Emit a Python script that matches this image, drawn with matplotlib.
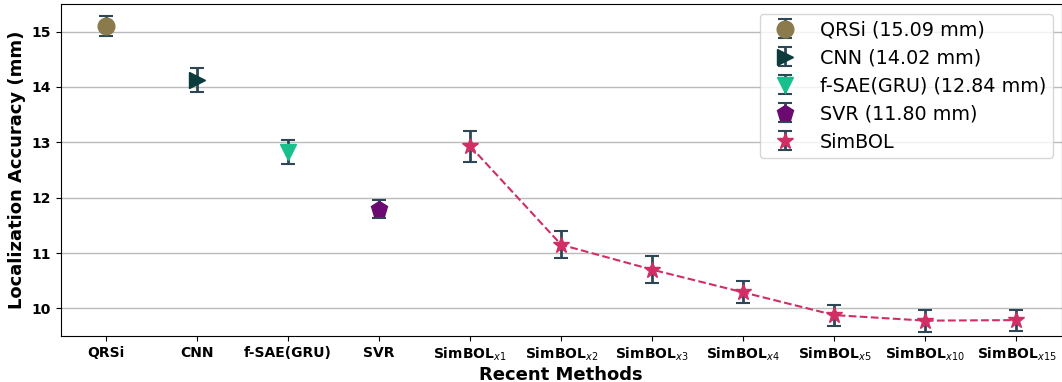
import numpy as np
import matplotlib
matplotlib.use("Agg")
from matplotlib import pyplot as plt

# categories on the x axis
methods = ["QRSi", "CNN", "f-SAE(GRU)", "SVR",
           r"SimBOL$_{x1}$", r"SimBOL$_{x2}$", r"SimBOL$_{x3}$", r"SimBOL$_{x4}$",
           r"SimBOL$_{x5}$", r"SimBOL$_{x10}$", r"SimBOL$_{x15}$"]

# baselines: label, mean, error
base_labels = ["QRSi (15.09 mm)", "CNN (14.02 mm)", "f-SAE(GRU) (12.84 mm)", "SVR (11.80 mm)"]
base_means = [15.10, 14.12, 12.83, 11.79]
base_errs = [0.18, 0.22, 0.22, 0.16]
base_markers = ["o", ">", "v", "p"]
base_colors = ["#8b7a4c", "#0b3b3c", "#19c08e", "#6b0a70"]

# SimBOL with different augmentation factors
simbol_means = [12.93, 11.15, 10.70, 10.29, 9.88, 9.78, 9.79]
simbol_errs = [0.28, 0.24, 0.24, 0.20, 0.19, 0.20, 0.19]
simbol_color = "#d02e64"
err_color = "#2e4757"


def main():
    fig, ax = plt.subplots(figsize=(10.62, 3.82), dpi=100)

    for i in range(len(base_means)):
        ax.errorbar(i, base_means[i], yerr=base_errs[i], fmt=base_markers[i],
                    color=base_colors[i], ecolor=err_color, elinewidth=2,
                    capsize=5, capthick=1.5, markersize=12, label=base_labels[i],
                    zorder=3)

    xs = np.arange(len(base_means), len(methods))
    # dashed connecting line, kept out of the legend
    ax.plot(xs, simbol_means, "--", color=simbol_color, linewidth=1.5, zorder=2)
    ax.errorbar(xs, simbol_means, yerr=simbol_errs, fmt="*", color=simbol_color,
                ecolor=err_color, elinewidth=2, capsize=5, capthick=1.5,
                markersize=12, label="SimBOL", zorder=3)

    ax.set_xticks(np.arange(len(methods)))
    ax.set_xticklabels(methods, fontweight="bold", fontsize=10)
    ax.set_xlim(-0.5, len(methods) - 0.5)
    ax.set_ylim(9.5, 15.5)
    ax.set_yticks([10, 11, 12, 13, 14, 15])
    for lab in ax.get_yticklabels():
        lab.set_fontweight("bold")
        lab.set_fontsize(10)

    ax.yaxis.grid(True, color="#bbbbbb", linewidth=1)
    ax.set_axisbelow(True)

    ax.set_xlabel("Recent Methods", fontweight="bold", fontsize=13, labelpad=2)
    ax.set_ylabel("Localization Accuracy (mm)", fontweight="bold", fontsize=13)

    ax.legend(loc="upper right", fontsize=13.8, handletextpad=0.8, borderpad=0.35,
              labelspacing=0.47, bbox_to_anchor=(0.991, 0.97), borderaxespad=0)

    plt.subplots_adjust(left=0.057, right=1.0, top=0.99, bottom=0.12)
    fig.savefig("out.png", dpi=100)


if __name__ == "__main__":
    main()
